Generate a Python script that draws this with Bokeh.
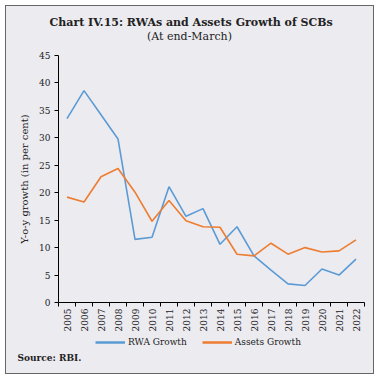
from math import pi
from bokeh.plotting import figure
from bokeh.layouts import column
from bokeh.models import Legend, LegendItem, Label, Title, FixedTicker, Range1d
from bokeh.embed import file_html
from bokeh.resources import INLINE

years = list(range(2005, 2023))
rwa_growth = [33.5, 38.6, 34.2, 29.8, 11.5, 11.9, 21.1, 15.7, 17.1, 10.6,
              13.8, 8.5, 5.9, 3.4, 3.1, 6.1, 5.0, 7.9]
assets_growth = [19.2, 18.3, 22.9, 24.4, 20.1, 14.8, 18.6, 14.9, 13.8, 13.7,
                 8.8, 8.5, 10.8, 8.8, 10.0, 9.2, 9.4, 11.4]
y_ticks = [0, 5, 10, 15, 20, 25, 30, 35, 40, 45]
series_names = ["RWA Growth", "Assets Growth"]
series_colors = ["#5b9bd5", "#ed7d31"]

BG = "#ecebf0"
FONT = "DejaVu Serif"
TXT = "#222222"
W = 367


def blank(height, top=0, bottom=0):
    f = figure(width=W, height=height, output_backend="svg", toolbar_location=None,
               x_range=Range1d(0, 1), y_range=Range1d(0, 1),
               x_axis_type=None, y_axis_type=None,
               background_fill_color=BG, border_fill_color=BG,
               min_border_left=0, min_border_right=0, min_border_top=top,
               min_border_bottom=bottom, title=None)
    f.outline_line_color = None
    f.grid.visible = False
    return f


# --- title block ---
p0 = blank(43, top=23)
p0.add_layout(Title(text="Chart IV.15: RWAs and Assets Growth of SCBs",
                    align="left", offset=-9, standoff=2, vertical_align="bottom",
                    text_font=FONT, text_font_size="11px",
                    text_font_style="bold", text_color=TXT), "above")
p0.add_layout(Label(x=131, y=13, x_units="screen", y_units="screen",
                    text="(At end-March)",
                    text_align="center", text_baseline="middle",
                    text_font=FONT, text_font_size="11px",
                    text_font_style="normal", text_color=TXT))

# --- main chart ---
p = figure(width=W, height=285, output_backend="svg", toolbar_location=None,
           x_range=Range1d(2004.5, 2022.5), y_range=Range1d(0, 45),
           background_fill_color=BG, border_fill_color=BG,
           min_border_left=52, min_border_right=9, min_border_top=6,
           min_border_bottom=31, title=None)
p.outline_line_color = None
p.grid.visible = False

p.line(years, rwa_growth, line_color=series_colors[0], line_width=1.6)
p.line(years, assets_growth, line_color=series_colors[1], line_width=1.6)

xa = p.xaxis[0]
xa.ticker = FixedTicker(ticks=years, minor_ticks=[y - 0.5 for y in years] + [2022.5])
xa.major_tick_line_color = None
xa.major_tick_out = 4
xa.major_tick_in = 0
xa.minor_tick_line_color = "black"
xa.minor_tick_out = 4
xa.minor_tick_in = 0
xa.major_label_orientation = pi / 2
xa.major_label_text_font = FONT
xa.major_label_text_font_size = "9px"
xa.major_label_text_color = TXT
xa.axis_line_color = "black"
xa.major_label_standoff = 2

ya = p.yaxis[0]
ya.ticker = FixedTicker(ticks=y_ticks)
ya.major_tick_out = 4
ya.major_tick_in = 0
ya.minor_tick_line_color = None
ya.major_label_text_font = FONT
ya.major_label_text_font_size = "9px"
ya.major_label_text_color = TXT
ya.major_label_standoff = 4
ya.axis_line_color = "black"
ya.axis_label = "Y-o-y growth (in per cent)"
ya.axis_label_text_font = FONT
ya.axis_label_text_font_size = "10px"
ya.axis_label_text_font_style = "normal"
ya.axis_label_text_color = TXT
ya.axis_label_standoff = 6

# --- legend + source block ---
p2 = blank(39, bottom=24)
# legend keys: the same series, drawn outside this strip's visible range
k1 = p2.line(years, rwa_growth, line_color=series_colors[0], line_width=2.5)
k2 = p2.line(years, assets_growth, line_color=series_colors[1], line_width=2.5)
legend = Legend(items=[LegendItem(label=series_names[0], renderers=[k1]),
                       LegendItem(label=series_names[1], renderers=[k2])],
                orientation="horizontal", location=(37, 1),
                background_fill_alpha=0, border_line_color=None,
                label_text_font=FONT, label_text_font_size="9px",
                label_text_color=TXT, glyph_width=30, glyph_height=12,
                label_height=12, label_standoff=3,
                spacing=15, padding=0, margin=0)
p2.add_layout(legend, "center")
p2.add_layout(Title(text="Source: RBI.", align="left", offset=-41, standoff=3,
                    vertical_align="bottom",
                    text_font=FONT, text_font_size="9px",
                    text_font_style="bold", text_color=TXT), "below")

layout = column(p0, p, p2, spacing=0,
                styles={"border": "1px solid #666666", "margin-left": "5px",
                        "margin-top": "5px", "background-color": BG})

open("out.html", "w").write(file_html(layout, INLINE))
